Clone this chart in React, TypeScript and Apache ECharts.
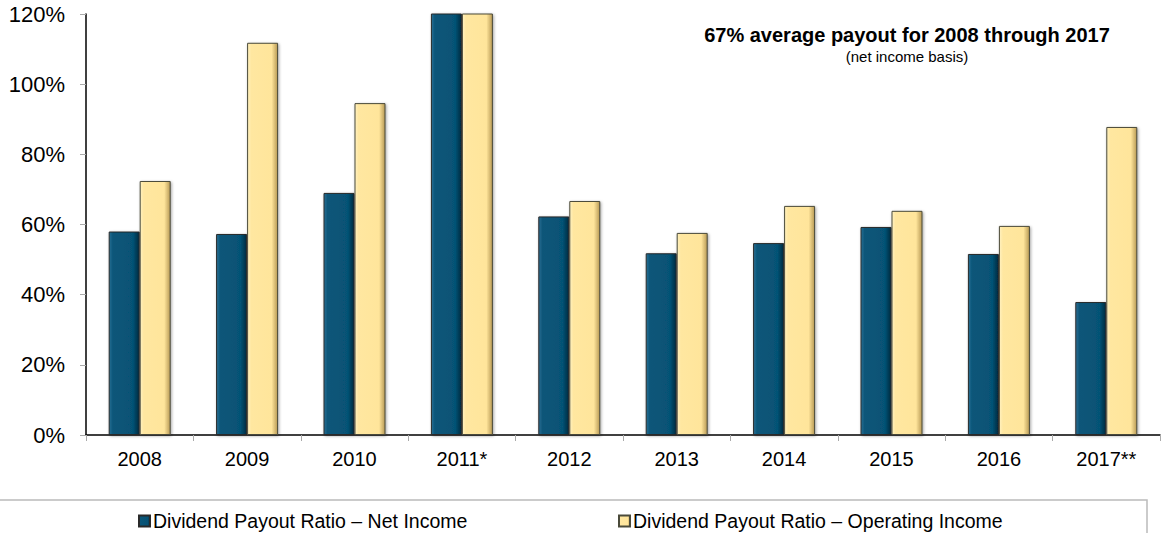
import React, { useEffect, useRef } from "react";
import * as echarts from "echarts";

const categories = ["2008", "2009", "2010", "2011*", "2012", "2013", "2014", "2015", "2016", "2017**"];
const netIncome = [58.0, 57.3, 69.0, 140, 62.3, 51.8, 54.7, 59.3, 51.6, 37.9];
const operatingIncome = [72.4, 111.8, 94.6, 140, 66.7, 57.6, 65.3, 63.9, 59.6, 87.8];
const yTicks = [0, 20, 40, 60, 80, 100, 120];
const seriesNames = ["Dividend Payout Ratio – Net Income", "Dividend Payout Ratio – Operating Income"];
const titleText = "67% average payout for 2008 through 2017";
const subtitleText = "(net income basis)";

const FONT = "'Liberation Sans', Arial, sans-serif";

export default function App() {
  const ref = useRef<HTMLDivElement>(null);
  useEffect(() => {
    document.body.style.margin = "0";
    const chart = echarts.init(ref.current!, null, { renderer: "svg" });
    const navyGrad = new echarts.graphic.LinearGradient(0, 0, 1, 0, [
      { offset: 0, color: "#2b6f94" },
      { offset: 0.12, color: "#0a5679" },
      { offset: 0.8, color: "#065275" },
      { offset: 1, color: "#032b40" },
    ]);
    const goldGrad = new echarts.graphic.LinearGradient(0, 0, 1, 0, [
      { offset: 0, color: "#fff1c0" },
      { offset: 0.12, color: "#ffe7a0" },
      { offset: 0.8, color: "#ffe59b" },
      { offset: 1, color: "#b89a55" },
    ]);
    const legendText = { fontFamily: FONT, fontSize: 19.5, color: "#000", padding: [0, 0, 0, -2] };
    chart.setOption({
      animation: false,
      textStyle: { fontFamily: FONT },
      grid: { left: 86, right: 7, top: 14, bottom: 98 },
      title: {
        text: titleText,
        subtext: subtitleText,
        left: 902,
        top: 20,
        textAlign: "center",
        itemGap: 4,
        textStyle: { fontFamily: FONT, fontSize: 20, fontWeight: "bold", color: "#000" },
        subtextStyle: { fontFamily: FONT, fontSize: 15, color: "#000" },
      },
      legend: [
        {
          data: [seriesNames[0]],
          left: 133,
          top: 506,
          icon: "rect",
          itemWidth: 11,
          itemHeight: 11,
          itemGap: 4,
          textStyle: legendText,
        },
        {
          data: [seriesNames[1]],
          left: 613,
          top: 506,
          icon: "rect",
          itemWidth: 11,
          itemHeight: 11,
          itemGap: 4,
          textStyle: legendText,
        },
      ],
      xAxis: {
        type: "category",
        data: categories,
        axisLine: { lineStyle: { color: "#000", width: 1.5 } },
        axisTick: { show: true, length: 6, lineStyle: { color: "#aaa" } },
        axisLabel: { fontFamily: FONT, fontSize: 20, color: "#000", margin: 14 },
      },
      yAxis: {
        type: "value",
        min: 0,
        max: 120,
        interval: 20,
        axisLine: { show: true, lineStyle: { color: "#000", width: 1.5 } },
        axisTick: { show: true, length: 6, lineStyle: { color: "#aaa" } },
        splitLine: { show: false },
        axisLabel: {
          fontFamily: FONT,
          fontSize: 22,
          color: "#000",
          margin: 21,
          formatter: (v: number) => (yTicks.includes(v) ? v + "%" : ""),
        },
      },
      graphic: [
        {
          type: "rect",
          shape: { x: -1, y: 500, width: 1148, height: 60 },
          style: { fill: "none", stroke: "#bbbbbb", lineWidth: 1.5 },
          z: -1,
        },
      ],
      series: [
        {
          name: seriesNames[0],
          type: "bar",
          data: netIncome,
          barWidth: 31,
          barGap: "0%",
          clip: true,
          itemStyle: {
            color: navyGrad,
            borderColor: "#2a2a2a",
            borderWidth: 1,
            shadowColor: "rgba(0,0,0,0.35)",
            shadowBlur: 3,
            shadowOffsetX: 1,
            shadowOffsetY: 1,
          },
        },
        {
          name: seriesNames[1],
          type: "bar",
          data: operatingIncome,
          barWidth: 31,
          barGap: "0%",
          clip: true,
          itemStyle: {
            color: goldGrad,
            borderColor: "#4a4a3a",
            borderWidth: 1,
            shadowColor: "rgba(0,0,0,0.35)",
            shadowBlur: 3,
            shadowOffsetX: 1,
            shadowOffsetY: 1,
          },
        },
      ],
    });
    return () => chart.dispose();
  }, []);
  return (
    <div
      ref={ref}
      style={{ position: "absolute", left: 0, top: 0, width: 1167, height: 533 }}
    />
  );
}
